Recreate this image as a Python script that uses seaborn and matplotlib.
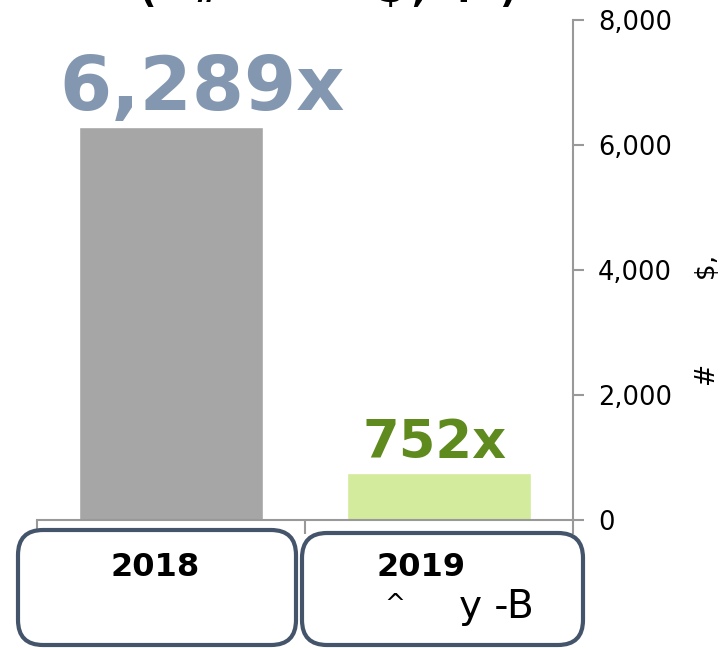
import matplotlib
matplotlib.use("Agg")
import matplotlib.pyplot as plt
from matplotlib.patches import FancyBboxPatch
import seaborn as sns
import pandas as pd

# 데이터
years = ["2018", "2019"]
values = [6289, 752]
value_labels = ["6,289x", "752x"]
bar_colors = ["#a6a6a6", "#d3eb9c"]
label_colors = ["#8497b0", "#5e8a1e"]
y_ticks = [0, 2000, 4000, 6000, 8000]
y_label = "#          $,"
box_sub_left = "^"
box_sub_right = "y -B"

sns.set_style("white")
plt.rcParams["font.family"] = ["DejaVu Sans"]
plt.rcParams["text.color"] = "black"
plt.rcParams["axes.labelcolor"] = "black"
plt.rcParams["ytick.color"] = "black"

fig = plt.figure(figsize=(7.27, 6.48), dpi=100)
ax = fig.add_axes([37 / 727, 1 - 520 / 648, 536 / 727, 500 / 648])

df = pd.DataFrame({"year": years, "value": values})
sns.barplot(data=df, x="year", y="value", hue="year", palette=bar_colors,
            width=0.69, legend=False, ax=ax, saturation=1)

ax.set_xlim(-0.5, 1.5)
ax.set_ylim(0, 8000)
ax.set_yticks(y_ticks)
ax.set_yticklabels([f"{t:,}" for t in y_ticks], fontsize=18.5)
ax.yaxis.tick_right()
ax.yaxis.set_label_position("right")
ax.set_ylabel(y_label, fontsize=19)
ax.yaxis.set_label_coords(1.228, 0.40)
ax.set_xlabel("")

# x축: 구간 경계 눈금만
ax.set_xticks([])
ax.set_xticks([-0.5, 0.5, 1.5], minor=True)
ax.tick_params(axis="x", which="minor", bottom=True, direction="out", length=10,
               color="#999999", width=1.5)
ax.tick_params(axis="y", right=True, direction="out", length=8, color="#999999",
               width=1.5, pad=10, labelcolor="black")

for s in ["top", "left"]:
    ax.spines[s].set_visible(False)
for s in ["right", "bottom"]:
    ax.spines[s].set_color("#999999")
    ax.spines[s].set_linewidth(1.5)

# 막대 위 값 레이블
offsets = [0.116, -0.015]
for i, (v, lab, c) in enumerate(zip(values, value_labels, label_colors)):
    ax.text(i + offsets[i], v + (270 if i == 0 else 240), lab, ha="center", va="baseline",
            fontsize=54 if i == 0 else 38, fontweight="bold", color=c)

# 카테고리 박스
boxes = [(0.18, 0.03, 2.78, 1.15), (3.02, 0.03, 2.81, 1.12)]
for (bx, by, bw, bh) in boxes:
    p = FancyBboxPatch((bx, by), bw, bh, boxstyle="round,pad=0,rounding_size=0.25",
                       transform=fig.dpi_scale_trans, facecolor="white",
                       edgecolor="#44546a", linewidth=3, clip_on=False)
    fig.patches.append(p)

fig.text(155 / 727, 1 - 567 / 648, years[0], ha="center", va="center", fontsize=23, fontweight="bold")
fig.text(421 / 727, 1 - 567 / 648, years[1], ha="center", va="center", fontsize=23, fontweight="bold")
fig.text(395 / 727, 1 - 604 / 648, box_sub_left, ha="center", va="center", fontsize=18)
fig.text(496 / 727, 1 - 607 / 648, box_sub_right, ha="center", va="center", fontsize=28)

# 상단 제목 (잘린 부분)
title_parts = [("(", 148), ("#", 207), ("$", 390), (",", 418), (".", 463), (")", 507)]
for t, px in title_parts:
    fig.text(px / 727, 1 - 2 / 648, t, ha="center", va="baseline", fontsize=26, fontweight="bold")

fig.savefig("out.png", dpi=100)
